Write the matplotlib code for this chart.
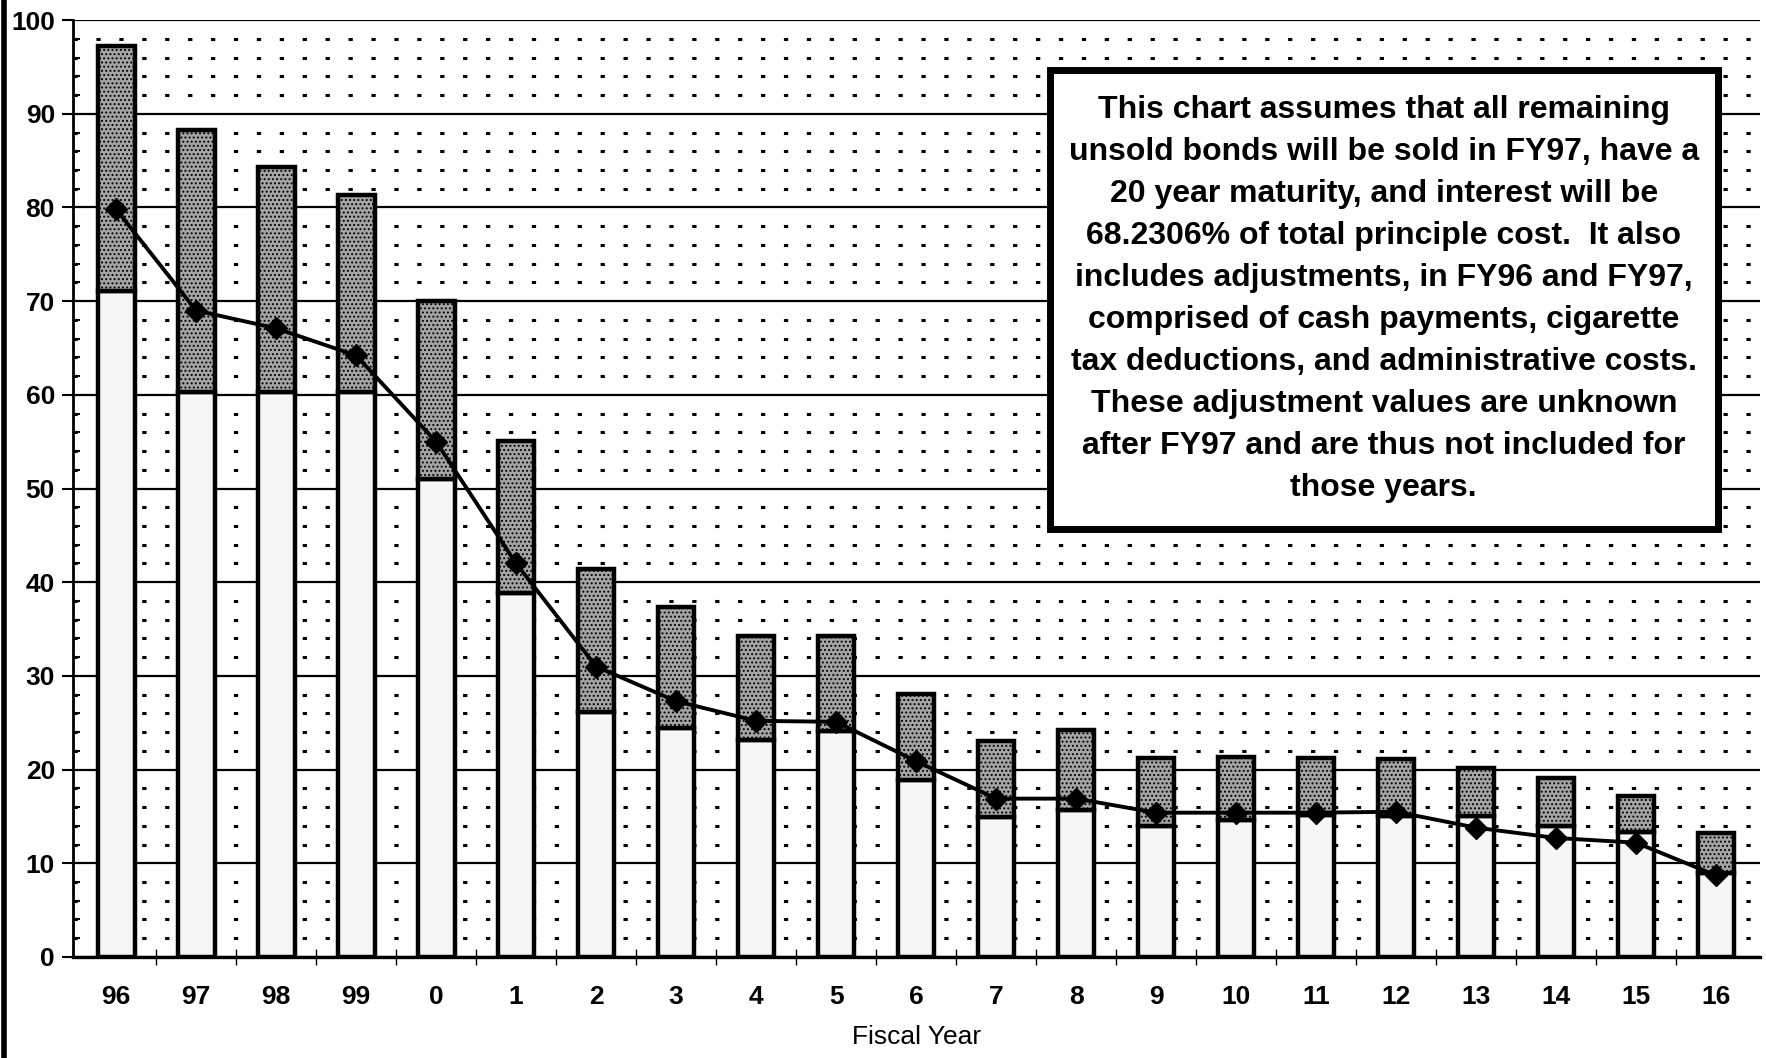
import numpy as np
import matplotlib.pyplot as plt
from matplotlib.lines import Line2D
from matplotlib.patches import Rectangle

plt.rcParams['font.family'] = ['Liberation Sans', 'DejaVu Sans']
plt.rcParams['hatch.color'] = '#404040'
plt.rcParams['hatch.linewidth'] = 0.9

# fiscal years
years = ['96', '97', '98', '99', '0', '1', '2', '3', '4', '5', '6',
         '7', '8', '9', '10', '11', '12', '13', '14', '15', '16']
# top of each bar (with adjustments)
total = [97.2, 88.3, 84.3, 81.3, 70.0, 55.1, 41.4, 37.4, 34.3, 34.3, 28.1,
         23.1, 24.2, 21.2, 21.3, 21.2, 21.1, 20.2, 19.1, 17.2, 13.2]
# light lower part of each bar
base = [71.1, 60.3, 60.3, 60.3, 51.0, 38.8, 26.1, 24.4, 23.2, 24.1, 18.9,
        14.9, 15.7, 14.0, 14.6, 15.1, 15.0, 15.0, 14.0, 13.3, 9.0]
# line with diamonds
line = [79.8, 69.0, 67.1, 64.2, 55.0, 42.0, 31.0, 27.3, 25.2, 25.1, 20.9,
        16.9, 16.9, 15.4, 15.4, 15.4, 15.5, 13.8, 12.7, 12.2, 8.7]

note = ("This chart assumes that all remaining\n"
        "unsold bonds will be sold in FY97, have a\n"
        "20 year maturity, and interest will be\n"
        "68.2306% of total principle cost.  It also\n"
        "includes adjustments, in FY96 and FY97,\n"
        "comprised of cash payments, cigarette\n"
        "tax deductions, and administrative costs.\n"
        "These adjustment values are unknown\n"
        "after FY97 and are thus not included for\n"
        "those years.")

x = np.arange(len(years))
top_part = [t - b for t, b in zip(total, base)]

fig = plt.figure(figsize=(17.66, 10.58), dpi=100)
ax = fig.add_axes([0.0413, 0.0955, 0.9553, 0.8855])

# grid
ax.set_ylim(0, 100)
ax.set_xlim(-0.54, 20.55)
ax.set_yticks(np.arange(0, 101, 10))
ax.set_yticks(np.arange(0, 101, 2), minor=True)
ax.grid(axis='y', which='major', color='black', lw=1.6, zorder=0)
ax.grid(axis='y', which='minor', color='black', lw=2.2, linestyle=(0, (1.4, 6.1)), zorder=0)
ax.set_axisbelow(True)

w = 0.46
ax.bar(x, base, width=w, color='#f6f6f6', edgecolor='black', lw=3.2, zorder=2)
ax.bar(x, top_part, width=w, bottom=base, color='#a4a4a4', edgecolor='black',
       lw=3.2, hatch='....', zorder=2)
ax.plot(x, line, color='black', lw=2.8, marker='D', markersize=11, zorder=3)

# axes styling
for s in ['top', 'right']:
    ax.spines[s].set_visible(False)
ax.spines['left'].set_linewidth(2)
ax.spines['bottom'].set_linewidth(2.4)

ax.set_xticks(x)
ax.set_xticklabels(years, fontsize=19, fontweight='bold')
ax.set_xticks(x[:-1] + 0.5, minor=True)
ax.tick_params(axis='x', which='major', length=0, pad=20)
ax.tick_params(axis='x', which='minor', length=12, width=1, direction='inout')
ax.tick_params(axis='y', which='major', length=8, width=1.5, direction='out', labelsize=19, pad=5)
ax.tick_params(axis='y', which='minor', length=5, width=1.5, direction='in')
for lab in ax.get_yticklabels():
    lab.set_fontweight('bold')

ax.set_xlabel('Fiscal Year', fontsize=19, labelpad=12)

# note box
ax.add_patch(Rectangle((0.579, 0.457), 0.396, 0.49, transform=ax.transAxes,
                       facecolor='white', edgecolor='black', lw=5, zorder=4))
ax.text(0.777, 0.702, note, transform=ax.transAxes, ha='center', va='center',
        fontsize=23, fontweight='bold', linespacing=1.52, zorder=5)

# scanner edge on the left
fig.add_artist(Line2D([0.002, 0.002], [0, 1], color='black', lw=4, transform=fig.transFigure))

fig.savefig('out.png', dpi=100, facecolor='white')
